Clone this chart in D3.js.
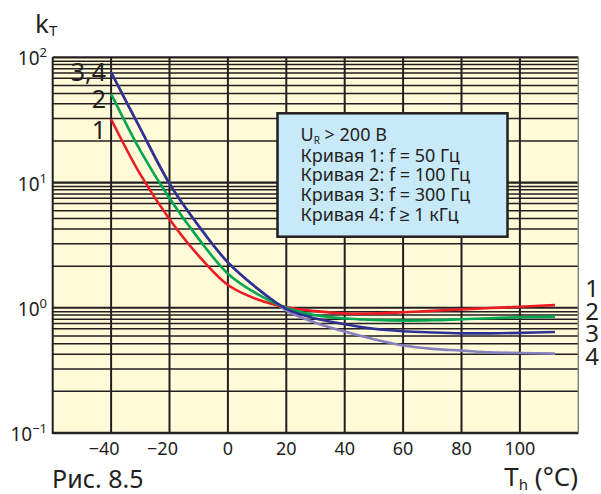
<!DOCTYPE html>
<html>
<head>
<meta charset="utf-8">
<script src="https://cdn.jsdelivr.net/npm/d3@7"></script>
<style>
  body { margin: 0; background: #fff; }
  svg { display: block; font-family: "Noto Sans", sans-serif; }
</style>
</head>
<body>
<div id="chart"></div>
<script>
// данные графика
const tempTicks = [-40, -20, 0, 20, 40, 60, 80, 100];
const decades = [0.1, 1, 10, 100];
const decadeExp = ["\u22121", "0", "1", "2"];
const minorMantissa = [2.15, 3.25, 4.25, 5.15, 5.95, 6.8, 7.5, 8.1, 8.75, 9.3];

const curveT = [-40, -30, -20, -10, 0, 10, 20, 30, 40, 50, 60, 70, 80, 90, 100, 112];
const k1 = [32, 11.6, 5.1, 2.6, 1.52, 1.17, 1.01, 0.94, 0.90, 0.90, 0.92, 0.945, 0.97, 0.995, 1.02, 1.05];
const k2 = [51, 18, 7.5, 3.55, 1.87, 1.29, 1.0, 0.87, 0.82, 0.80, 0.79, 0.795, 0.81, 0.825, 0.84, 0.85];
const k3 = [76, 27, 9.8, 4.5, 2.3, 1.43, 0.98, 0.82, 0.74, 0.68, 0.65, 0.635, 0.625, 0.625, 0.63, 0.64];
const k4 = [76, 27, 9.8, 4.5, 2.3, 1.43, 0.95, 0.76, 0.645, 0.56, 0.50, 0.47, 0.455, 0.44, 0.435, 0.43];

const legendLines = ["Кривая 1: f = 50 Гц", "Кривая 2: f = 100 Гц", "Кривая 3: f = 300 Гц", "Кривая 4: f \u2265 1 кГц"];

const width = 601;
const height = 494;
const plotL = 52.7, plotR = 578.3, plotT = 57.3, plotB = 433;
const ink = "#231f20";

const svg = d3.select("#chart")
    .append("svg")
    .attr("width", width)
    .attr("height", height);

const x = d3.scaleLinear().domain([-60, 120]).range([plotL, plotR]);
const y = d3.scaleLog().domain([0.1, 100]).range([plotB, plotT]);

// фон
svg.append("rect")
    .attr("x", plotL).attr("y", plotT)
    .attr("width", plotR - plotL).attr("height", plotB - plotT)
    .attr("fill", "#fffad8");

// сетка: мелкие горизонтальные линии
const minorVals = [];
decades.slice(0, 3).forEach(d => minorMantissa.forEach(m => minorVals.push(d * m)));
svg.append("g")
    .selectAll("line")
    .data(minorVals)
    .join("line")
    .attr("x1", plotL).attr("x2", plotR)
    .attr("y1", d => y(d)).attr("y2", d => y(d))
    .attr("stroke", ink)
    .attr("stroke-width", 1.5);

svg.append("g")
    .selectAll("line")
    .data(decades)
    .join("line")
    .attr("x1", plotL).attr("x2", plotR)
    .attr("y1", d => y(d)).attr("y2", d => y(d))
    .attr("stroke", ink)
    .attr("stroke-width", 2.2);

svg.append("g")
    .selectAll("line")
    .data(tempTicks)
    .join("line")
    .attr("x1", d => x(d)).attr("x2", d => x(d))
    .attr("y1", plotT).attr("y2", plotB)
    .attr("stroke", ink)
    .attr("stroke-width", 2);

// рамка
svg.append("line")
    .attr("x1", plotL).attr("x2", plotL).attr("y1", plotT).attr("y2", plotB + 1)
    .attr("stroke", ink).attr("stroke-width", 2);
svg.append("line")
    .attr("x1", plotL).attr("x2", plotR).attr("y1", plotB).attr("y2", plotB)
    .attr("stroke", ink).attr("stroke-width", 2.5);
svg.append("line")
    .attr("x1", plotR).attr("x2", plotR).attr("y1", plotT).attr("y2", plotB)
    .attr("stroke", "#8a8478").attr("stroke-width", 1.5);

// кривые
const line = d3.line()
    .x((d, i) => x(curveT[i]))
    .y(d => y(d))
    .curve(d3.curveCatmullRom.alpha(0.5));

const series = [
    { vals: k4, color: "#8781bd" },
    { vals: k1, color: "#ed1c24" },
    { vals: k2, color: "#00a651" },
    { vals: k3, color: "#2e3192" }
];
svg.append("g")
    .selectAll("path")
    .data(series)
    .join("path")
    .attr("d", d => line(d.vals))
    .attr("fill", "none")
    .attr("stroke", d => d.color)
    .attr("stroke-width", 2.6);

// подписи оси Y
const yLab = svg.append("g").attr("fill", ink);
decades.forEach((d, i) => {
    const t = yLab.append("text")
        .attr("x", 47)
        .attr("y", y(d) + 8)
        .attr("text-anchor", "end")
        .attr("font-size", 19);
    t.append("tspan").text("10");
    t.append("tspan").attr("font-size", 13).attr("dy", -8).text(decadeExp[i]);
});

// подписи оси X
svg.append("g")
    .selectAll("text")
    .data(tempTicks)
    .join("text")
    .attr("x", d => x(d))
    .attr("dx", d => d < 0 ? -7 : 0)
    .attr("y", 455)
    .attr("text-anchor", "middle")
    .attr("font-size", 18)
    .attr("fill", ink)
    .text(d => d < 0 ? "\u2212" + Math.abs(d) : d);

// заголовки осей
const kT = svg.append("text").attr("x", 35).attr("y", 33).attr("font-size", 26).attr("fill", ink);
kT.append("tspan").text("k");
kT.append("tspan").attr("font-size", 15).attr("dy", 3).text("T");

const th = svg.append("text").attr("x", 578).attr("y", 486).attr("text-anchor", "end").attr("font-size", 26).attr("fill", ink);
th.append("tspan").text("T");
th.append("tspan").attr("font-size", 15).attr("dy", 4).text("h");
th.append("tspan").attr("dy", -4).text(" (°C)");

svg.append("text")
    .attr("x", 52).attr("y", 488)
    .attr("font-size", 25)
    .attr("fill", ink)
    .text("Рис. 8.5");

// номера кривых
const leftLabels = [["3,4", 81], ["2", 108], ["1", 139]];
svg.append("g")
    .selectAll("text")
    .data(leftLabels)
    .join("text")
    .attr("x", 106).attr("y", d => d[1])
    .attr("text-anchor", "end")
    .attr("font-size", 25)
    .attr("fill", ink)
    .text(d => d[0]);

const rightLabels = [["1", 297], ["2", 320], ["3", 342], ["4", 365]];
svg.append("g")
    .selectAll("text")
    .data(rightLabels)
    .join("text")
    .attr("x", 592).attr("y", d => d[1])
    .attr("text-anchor", "middle")
    .attr("font-size", 24)
    .attr("fill", ink)
    .text(d => d[0]);

// легенда
svg.append("rect")
    .attr("x", 277.5).attr("y", 113.3)
    .attr("width", 230).attr("height", 123.4)
    .attr("fill", "#c8e9f8")
    .attr("stroke", ink)
    .attr("stroke-width", 2.5);

const ur = svg.append("text").attr("x", 300.5).attr("y", 140.7).attr("font-size", 18).attr("fill", ink);
ur.append("tspan").text("U");
ur.append("tspan").attr("font-size", 10).attr("dy", 3).text("R");
ur.append("tspan").attr("dy", -3).text(" > 200 В");

svg.append("g")
    .selectAll("text")
    .data(legendLines)
    .join("text")
    .attr("x", 300.5)
    .attr("y", (d, i) => 161.5 + i * 19.8)
    .attr("font-size", 18)
    .attr("fill", ink)
    .text(d => d);
</script>
</body>
</html>
